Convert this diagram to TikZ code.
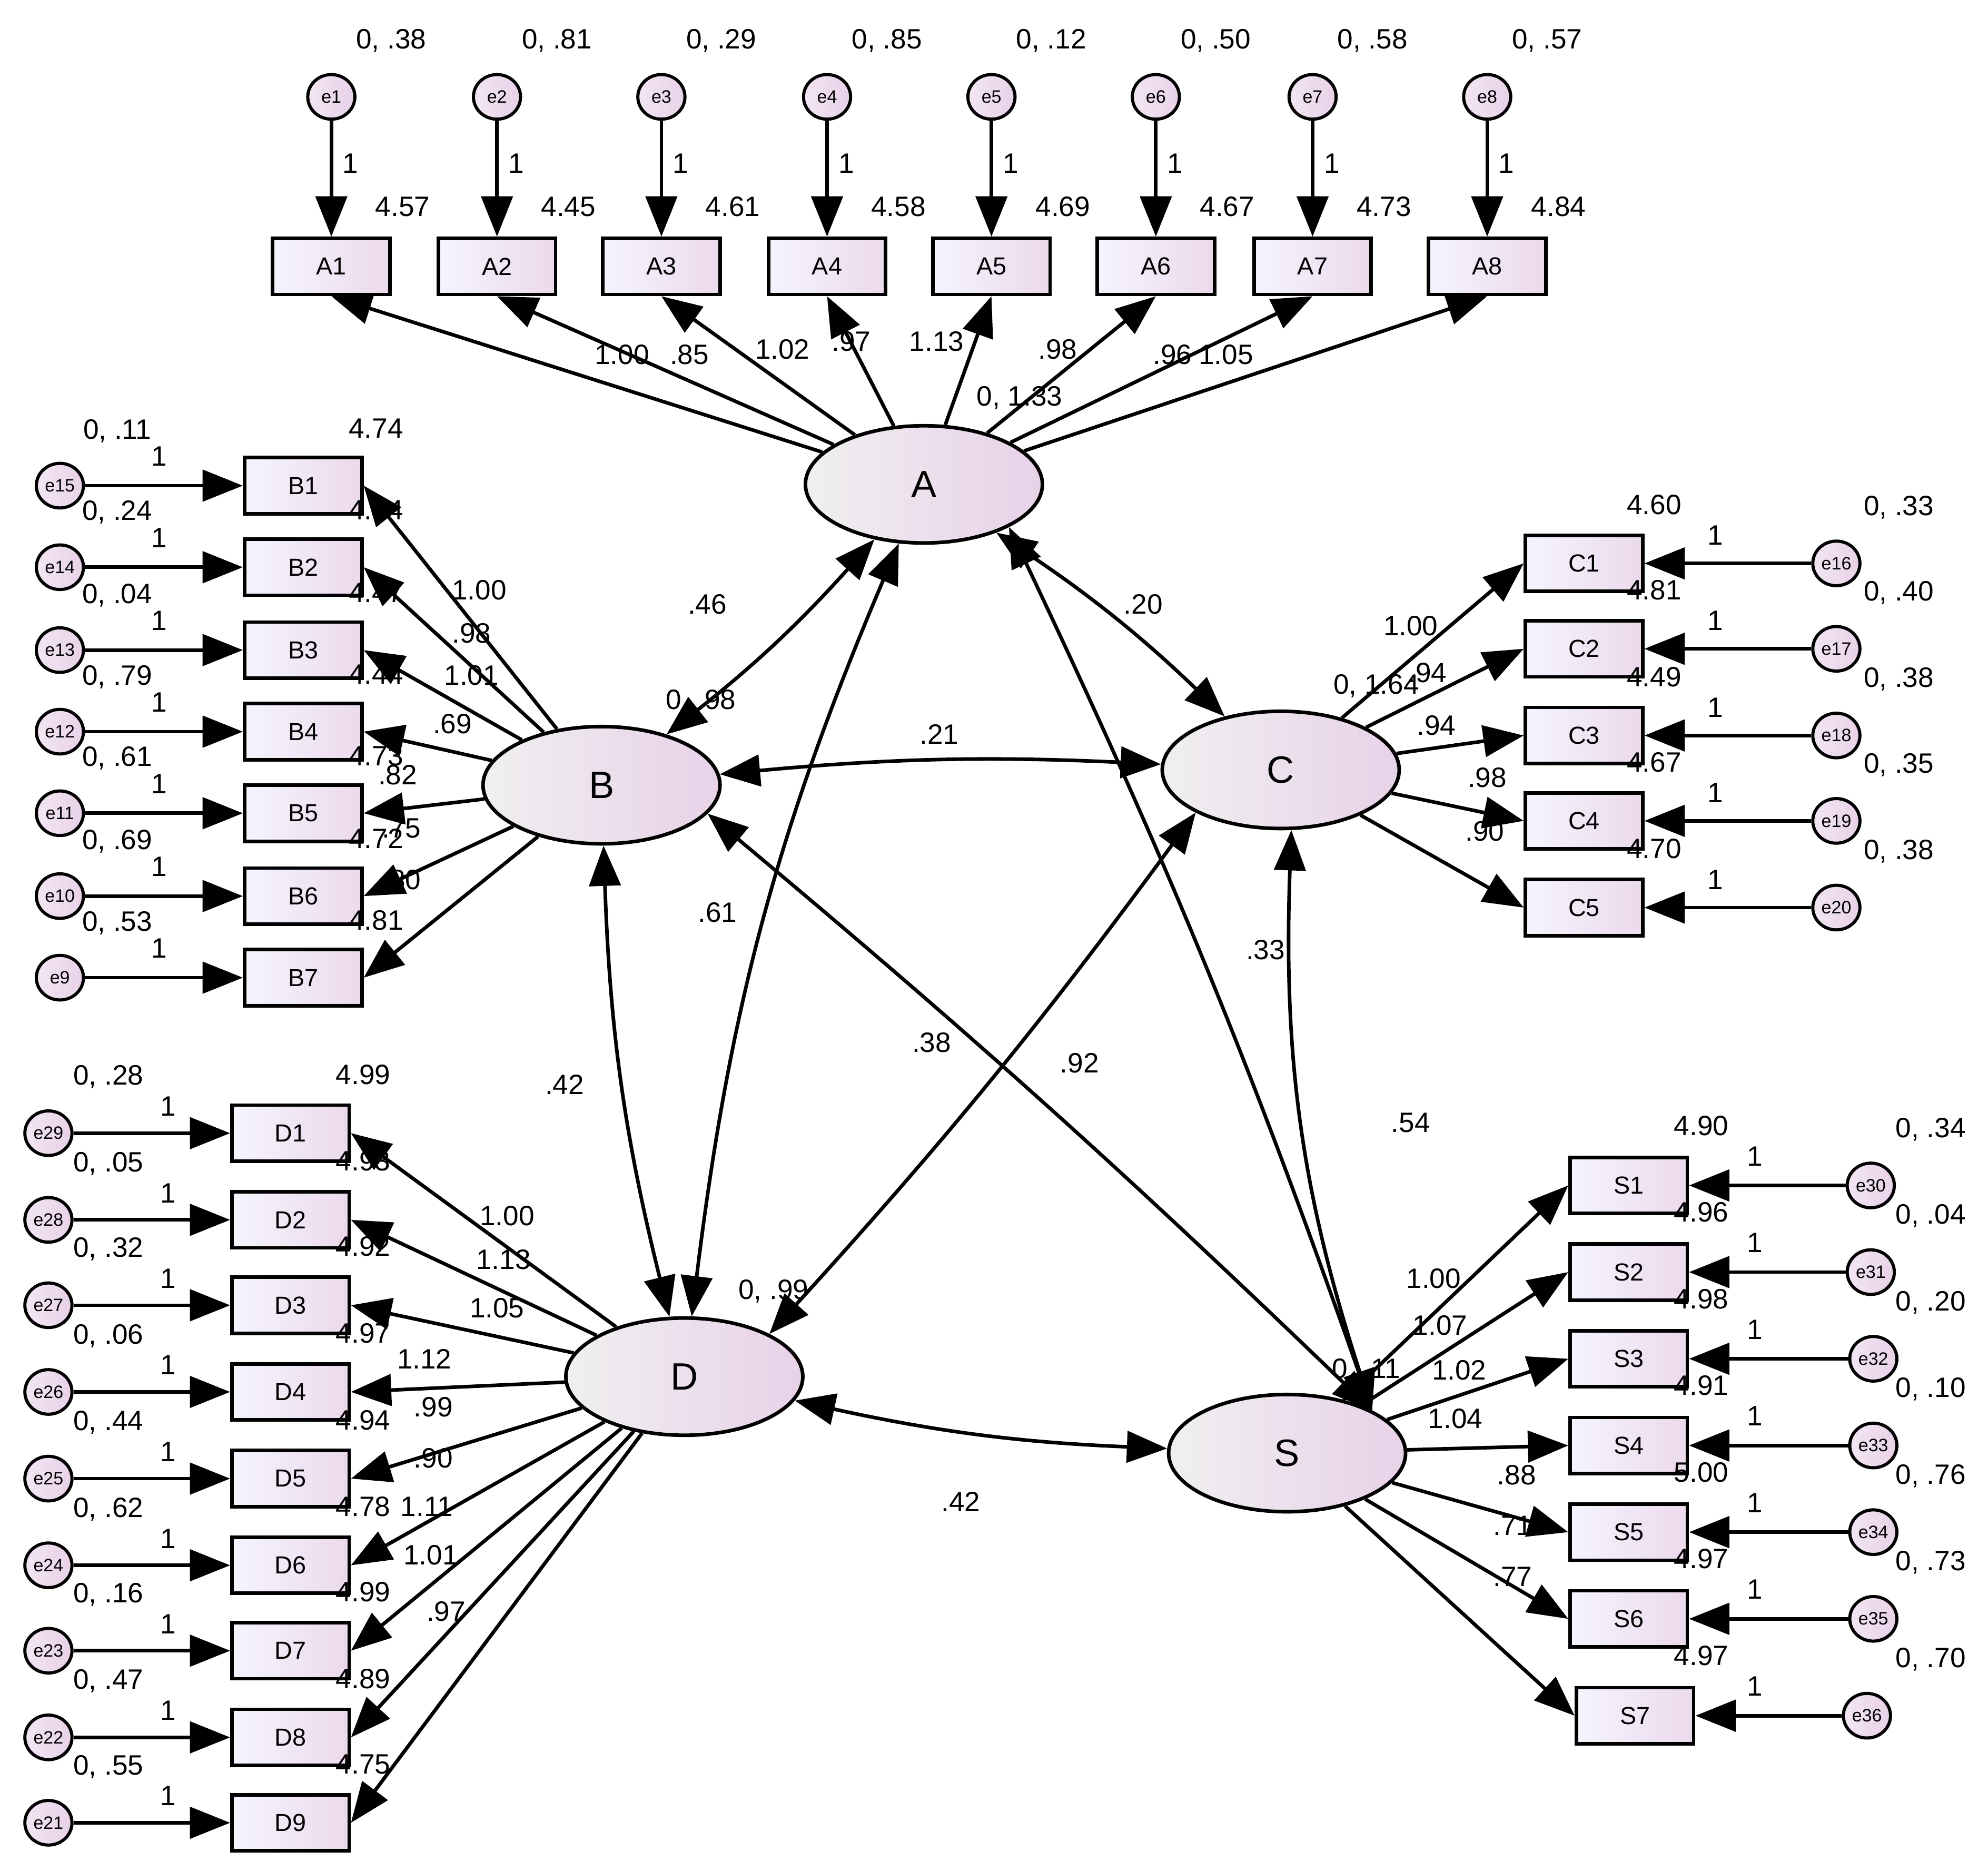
\documentclass[tikz,border=0pt]{standalone}
\usepackage{fontspec}
\setmainfont{Liberation Sans}
\usetikzlibrary{arrows.meta,shapes.geometric}
\begin{document}
\begin{tikzpicture}[x=0.02cm,y=-0.02cm,
 ln/.style={line width=1.6pt},
 arr/.style={ln,-{Triangle[length=18pt,width=14pt]}},
 darr/.style={ln,{Triangle[length=18pt,width=14pt]}-{Triangle[length=18pt,width=14pt]}},
 box/.style={draw,line width=1.6pt,minimum width=1.84cm,minimum height=0.88cm,left color=black!8!blue!4,right color=violet!15,font=\fontsize{11}{12}\selectfont,inner sep=0},
 err/.style={ellipse,draw,line width=1.4pt,minimum width=0.74cm,minimum height=0.7cm,left color=violet!10,right color=violet!18,font=\fontsize{8}{9}\selectfont,inner sep=0},
 lat/.style={ellipse,draw,line width=1.6pt,minimum width=3.72cm,minimum height=1.84cm,left color=blue!6!black!6,right color=violet!18,font=\fontsize{17}{19}\selectfont},
 lb/.style={font=\fontsize{12.5}{14}\selectfont,inner sep=0}]
\useasboundingbox[fill=white] (0,0) rectangle (1560,1460);
% latents
\node[lat] (A) at (725,380) {A};
\node[lat] (B) at (472,616) {B};
\node[lat] (C) at (1005,604) {C};
\node[lat] (D) at (537,1080) {D};
\node[lat] (S) at (1010,1140) {S};
% A block
\foreach \i/\x/\v/\c in {1/260/.38/4.57,2/390/.81/4.45,3/519/.29/4.61,4/649/.85/4.58,5/778/.12/4.69,6/907/.50/4.67,7/1030/.58/4.73,8/1167/.57/4.84}{
 \node[box] (A\i) at (\x,209) {A\i};
 \node[err] (e\i) at (\x,76) {e\i};
 \draw[arr] (e\i) -- (A\i);
 \node[lb] at (\x+47,32) {0, \v};
 \node[lb] at (\x+15,128) {1};
 \node[lb] at (\x+56,162) {\c};
 \draw[arr] (A) -- (A\i.south);
}
% B block
\foreach \i/\y/\e/\v/\c in {1/381/15/.11/4.74,2/445/14/.24/4.64,3/510/13/.04/4.47,4/574/12/.79/4.44,5/638/11/.61/4.73,6/703/10/.69/4.72,7/767/9/.53/4.81}{
 \node[box] (B\i) at (238,\y) {B\i};
 \node[err] (e\e) at (47,\y) {e\e};
 \draw[arr] (e\e) -- (B\i);
 \node[lb] at (92,\y-43) {0, \v};
 \node[lb] at (125,\y-23) {1};
 \node[lb] at (295,\y-45) {\c};
 \draw[arr] (B) -- (B\i.east);
}
% C block
\foreach \i/\y/\e/\v/\c in {1/442/16/.33/4.60,2/509/17/.40/4.81,3/577/18/.38/4.49,4/644/19/.35/4.67,5/712/20/.38/4.70}{
 \node[box] (C\i) at (1243,\y) {C\i};
 \node[err] (e\e) at (1441,\y) {e\e};
 \draw[arr] (e\e) -- (C\i);
 \node[lb] at (1490,\y-44) {0, \v};
 \node[lb] at (1346,\y-22) {1};
 \node[lb] at (1298,\y-46) {\c};
 \draw[arr] (C) -- (C\i.west);
}
% D block
\foreach \i/\y/\e/\v/\c in {1/889/29/.28/4.99,2/957/28/.05/4.93,3/1024/27/.32/4.92,4/1092/26/.06/4.97,5/1160/25/.44/4.94,6/1228/24/.62/4.78,7/1295/23/.16/4.99,8/1363/22/.47/4.89,9/1430/21/.55/4.75}{
 \node[box] (D\i) at (228,\y) {D\i};
 \node[err] (e\e) at (38,\y) {e\e};
 \draw[arr] (e\e) -- (D\i);
 \node[lb] at (85,\y-44) {0, \v};
 \node[lb] at (132,\y-21) {1};
 \node[lb] at (285,\y-46) {\c};
 \draw[arr] (D) -- (D\i.east);
}
% S block
\foreach \i/\y/\e/\v/\c/\bx/\ex in {1/930/30/.34/4.90/1278/1468,2/998/31/.04/4.96/1278/1468,3/1066/32/.20/4.98/1278/1470,4/1134/33/.10/4.91/1278/1470,5/1202/34/.76/5.00/1278/1470,6/1270/35/.73/4.97/1278/1470,7/1346/36/.70/4.97/1283/1465}{
 \node[box] (S\i) at (\bx,\y) {S\i};
 \node[err] (e\e) at (\ex,\y) {e\e};
 \draw[arr] (e\e) -- (S\i);
 \node[lb] at (1515,\y-44) {0, \v};
 \node[lb] at (1377,\y-23) {1};
 \node[lb] at (1335,\y-47) {\c};
 \draw[arr] (S) -- (S\i.west);
}
% loadings labels
\foreach \t/\x/\y in {1.00/488/278,.85/541/278,1.02/614/274,.97/668/268,1.13/735/268,.98/830/274,.96/920/278,1.05/962/278,
 1.00/376/463,.98/370/497,1.01/370/530,.69/355/568,.82/312/608,.75/315/650,.80/315/690,
 1.00/1107/491,.94/1120/528,.94/1127/569,.98/1167/610,.90/1165/652,
 1.00/398/954,1.13/395/988,1.05/390/1026,1.12/333/1066,.99/340/1104,.90/340/1144,1.11/335/1182,1.01/338/1220,.97/350/1264,
 1.00/1125/1003,1.07/1130/1040,1.02/1145/1075,1.04/1142/1113,.88/1190/1157,.71/1187/1197,.77/1187/1237}{
 \node[lb] at (\x,\y) {\t};
}
% latent variances
\node[lb] at (800,312) {0, 1.33};
\node[lb] at (550,550) {0, .98};
\node[lb] at (1080,538) {0, 1.64};
\node[lb] at (607,1013) {0, .99};
\node[lb] at (1072,1075) {0, .11};
% covariances
\draw[darr] (A) to[bend left=5] (B);
\draw[darr] (A) to[bend left=5] (C);
\draw[darr] (A) to[bend right=8] (D);
\draw[darr] (A.south east) to[bend left=3] (S.north east);
\draw[darr] (B) to[bend left=4] (C);
\draw[darr] (B) to[bend right=6] (D);
\draw[darr] (B.-15) to[bend left=2] (S.north east);
\draw[darr] (C.south west) to[bend left=3] (D.north east);
\draw[darr] (C.-80) to[bend right=10] (S.north east);
\draw[darr] (D) to[bend right=5] (S);
\foreach \t/\x/\y in {.46/555/474,.20/897/474,.21/737/576,.61/563/716,.33/993/745,.38/731/818,.92/847/834,.42/443/851,.54/1107/881,.42/754/1178}{
 \node[lb] at (\x,\y) {\t};
}
\end{tikzpicture}
\end{document}
